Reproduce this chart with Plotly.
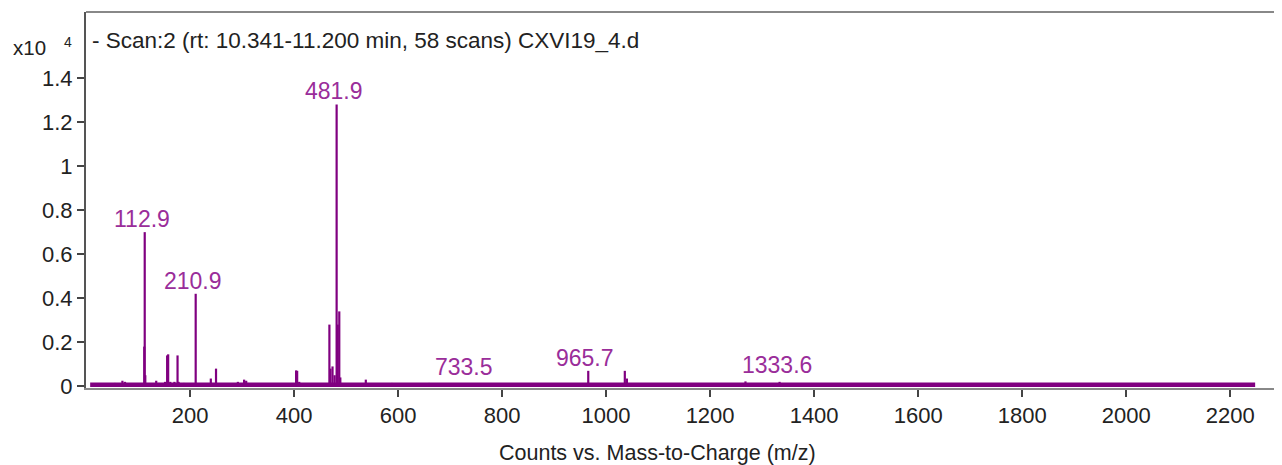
import plotly.graph_objects as go

# ---- data (intensity in units of 10^4 counts) ----
peak_mz = [30, 55, 70, 75, 112.0, 112.9, 114, 135, 140, 152, 156, 158, 162, 170, 176, 178,
           188, 210.9, 240, 250, 292, 304, 308, 312, 404, 406, 410, 468, 470, 474, 478,
           481.9, 484, 487, 489, 538, 588, 660, 733.5, 965.7, 1036, 1040, 1268, 1333.6]
peak_int = [0.012, 0.015, 0.025, 0.02, 0.18, 0.70, 0.05, 0.025, 0.015, 0.02, 0.14, 0.145, 0.02, 0.02, 0.14, 0.02,
            0.015, 0.42, 0.035, 0.08, 0.02, 0.03, 0.025, 0.015, 0.072, 0.07, 0.02, 0.28, 0.08, 0.09, 0.05,
            1.28, 0.28, 0.34, 0.04, 0.03, 0.015, 0.015, 0.012, 0.07, 0.07, 0.035, 0.022, 0.02]
baseline_mz = [8, 2248]
baseline_int = [0.007, 0.007]
label_mz = [112.9, 210.9, 481.9, 733.5, 965.7, 1333.6]
label_int = [0.70, 0.42, 1.28, 0.012, 0.07, 0.02]
label_text = ["112.9", "210.9", "481.9", "733.5", "965.7", "1333.6"]
x_ticks = [200, 400, 600, 800, 1000, 1200, 1400, 1600, 1800, 2000, 2200]
y_ticks = [0, 0.2, 0.4, 0.6, 0.8, 1, 1.2, 1.4]
y_ticktext = ["0", "0.2", "0.4", "0.6", "0.8", "1", "1.2", "1.4"]

LINE = "#800080"
LABEL = "#9a2d9a"
TEXT = "#222222"
FONT = "Liberation Sans, Arial, sans-serif"

stick_x, stick_y = [], []
for m, h in zip(peak_mz, peak_int):
    stick_x += [m, m, None]
    stick_y += [0, h, None]

fig = go.Figure()
fig.add_trace(go.Scatter(x=baseline_mz, y=baseline_int, mode="lines",
                         line=dict(color=LINE, width=4.5), hoverinfo="skip"))
fig.add_trace(go.Scatter(x=stick_x, y=stick_y, mode="lines",
                         line=dict(color=LINE, width=2.2), hoverinfo="skip"))

for m, h, t in zip(label_mz, label_int, label_text):
    low = h < 0.05
    fig.add_annotation(x=m, y=h, xref="x", yref="y", text=t, showarrow=False,
                       yanchor="bottom", xanchor="center", yshift=2 if low else -2, xshift=-3,
                       font=dict(family=FONT, size=23, color=LABEL))

# scan title inside the plot, near the top-left corner
fig.add_annotation(x=0, y=1, xref="paper", yref="paper", xanchor="left", yanchor="middle",
                   xshift=4, yshift=-28, showarrow=False,
                   text="- Scan:2 (rt: 10.341-11.200 min, 58 scans) CXVI19_4.d",
                   font=dict(family=FONT, size=22.5, color=TEXT))
# exponent label
fig.add_annotation(x=0, y=1, xref="paper", yref="paper", xanchor="left", yanchor="middle",
                   xshift=-75, yshift=-35, showarrow=False, text="x10",
                   font=dict(family=FONT, size=20.5, color=TEXT))
fig.add_annotation(x=0, y=1, xref="paper", yref="paper", xanchor="center", yanchor="middle",
                   xshift=-18, yshift=-30, showarrow=False, text="4",
                   font=dict(family=FONT, size=14, color=TEXT))
# x-axis title
fig.add_annotation(x=0.475, y=0, xref="paper", yref="paper", xanchor="center", yanchor="middle",
                   yshift=-65, showarrow=False, text="Counts vs. Mass-to-Charge (m/z)",
                   font=dict(family=FONT, size=21.5, color=TEXT))

fig.update_layout(
    width=1282, height=465,
    margin=dict(l=78, r=0, t=4, b=85),
    paper_bgcolor="white", plot_bgcolor="white",
    showlegend=False,
    font=dict(family=FONT, size=22, color=TEXT),
    xaxis=dict(range=[0, 2315], tickvals=x_ticks, ticks="outside", ticklen=7, tickwidth=2,
               tickcolor="#444444", showline=True, linecolor="#888888", linewidth=2,
               showgrid=False, zeroline=False, mirror=False,
               tickfont=dict(family=FONT, size=22, color=TEXT)),
    yaxis=dict(range=[-0.008, 1.70], tickvals=y_ticks, ticktext=y_ticktext,
               ticks="outside", ticklen=7, tickwidth=2, tickcolor="#444444",
               tickfont=dict(family=FONT, size=22, color=TEXT),
               showline=True, linecolor="#555555", linewidth=2,
               showgrid=False, zeroline=False),
    shapes=[dict(type="line", xref="paper", yref="paper", x0=0, x1=1, y0=1, y1=1,
                 line=dict(color="#888888", width=2))],
)

fig.write_html("out.html")
